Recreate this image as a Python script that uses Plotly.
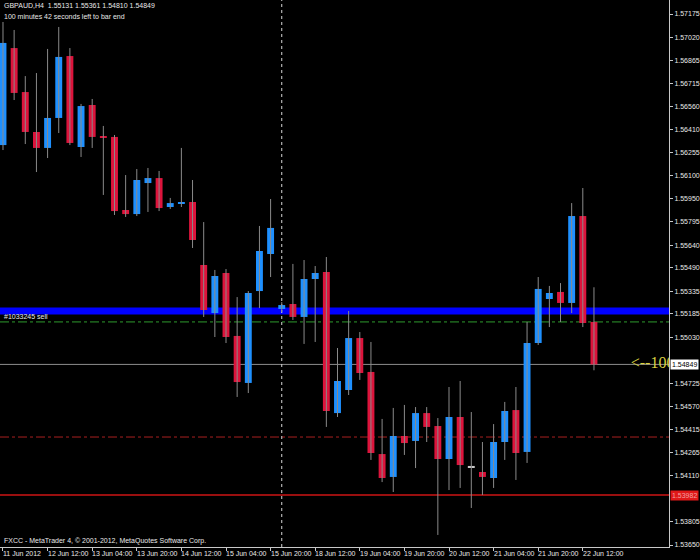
import plotly.graph_objects as go

# ---------------- data (GBPAUD, H4) ----------------
bar_index = list(range(54))
opens = [1.56305, 1.56949, 1.56657, 1.56392, 1.56286, 1.56485, 1.56896, 1.56292, 1.56571, 1.56365,
         1.56359, 1.55874, 1.55847, 1.56053, 1.56086, 1.55894, 1.55914, 1.55927, 1.55509, 1.55190,
         1.55456, 1.55038, 1.54726, 1.55336, 1.55582, 1.55217, 1.55250, 1.55164, 1.55416, 1.55462,
         1.54526, 1.54679, 1.55024, 1.54799, 1.54254, 1.54102, 1.54374, 1.54341, 1.54526, 1.54440,
         1.54221, 1.54500, 1.54168, 1.54135, 1.54095, 1.54334, 1.54546, 1.54268, 1.54991, 1.55283,
         1.55330, 1.55257, 1.55834, 1.55131]
highs = [1.57122, 1.57069, 1.56763, 1.56783, 1.56943, 1.57089, 1.56949, 1.56578, 1.56611, 1.56432,
         1.56372, 1.56106, 1.56146, 1.56153, 1.56133, 1.55954, 1.56286, 1.56073, 1.55794, 1.55476,
         1.55482, 1.55296, 1.55336, 1.55768, 1.55947, 1.55263, 1.55516, 1.55542, 1.55502, 1.55562,
         1.54958, 1.55204, 1.55064, 1.54998, 1.54487, 1.54560, 1.54580, 1.54566, 1.54566, 1.54493,
         1.54699, 1.54739, 1.54533, 1.54334, 1.54453, 1.54600, 1.54699, 1.55131, 1.55429, 1.55370,
         1.55389, 1.55920, 1.56020, 1.55361]
lows = [1.56272, 1.56604, 1.56312, 1.56126, 1.56219, 1.56385, 1.56305, 1.56226, 1.56286, 1.55974,
        1.55841, 1.55828, 1.55834, 1.55861, 1.55867, 1.55881, 1.55894, 1.55622, 1.55164, 1.55031,
        1.54991, 1.54633, 1.54659, 1.55223, 1.55429, 1.55197, 1.55144, 1.54985, 1.54998, 1.54434,
        1.54500, 1.54646, 1.54746, 1.54215, 1.54068, 1.54002, 1.54248, 1.54161, 1.54334, 1.53717,
        1.54015, 1.54029, 1.53896, 1.53982, 1.54029, 1.54215, 1.54082, 1.54195, 1.54978, 1.55097,
        1.55131, 1.55190, 1.55097, 1.54810]
closes = [1.56983, 1.56651, 1.56392, 1.56286, 1.56485, 1.56890, 1.56319, 1.56564, 1.56359, 1.56352,
          1.55867, 1.55847, 1.56073, 1.56086, 1.55887, 1.55920, 1.55927, 1.55675, 1.55210, 1.55436,
          1.55031, 1.54732, 1.55323, 1.55602, 1.55755, 1.55243, 1.55164, 1.55416, 1.55456, 1.54540,
          1.54739, 1.55024, 1.54792, 1.54261, 1.54095, 1.54374, 1.54327, 1.54526, 1.54434, 1.54221,
          1.54500, 1.54181, 1.54168, 1.54102, 1.54334, 1.54540, 1.54261, 1.54991, 1.55350, 1.55323,
          1.55257, 1.55834, 1.55124, 1.54849]

time_tick_index = [0, 4, 8, 12, 16, 20, 24, 28, 32, 36, 40, 44, 48, 52]
time_tick_labels = ["11 Jun 2012", "12 Jun 12:00", "13 Jun 04:00", "13 Jun 20:00", "14 Jun 12:00",
                    "15 Jun 04:00", "15 Jun 20:00", "18 Jun 12:00", "19 Jun 04:00", "19 Jun 20:00",
                    "20 Jun 12:00", "21 Jun 04:00", "21 Jun 20:00", "22 Jun 12:00"]
price_ticks = [1.57175, 1.57020, 1.56865, 1.56715, 1.56560, 1.56410, 1.56255, 1.56100, 1.55950,
               1.55795, 1.55640, 1.55490, 1.55335, 1.55185, 1.55030, 1.54725, 1.54570,
               1.54415, 1.54265, 1.54110, 1.53805, 1.53650]

blue_level = 1.55204
order_level = 1.55131
bid_price = 1.54849
red_dash_level = 1.54367
red_level = 1.53982
week_separator_bar = 25

header_line1 = "GBPAUD,H4  1.55131 1.55361 1.54810 1.54849"
header_line2 = "100 minutes 42 seconds left to bar end"
order_label = "#1033245 sell"
footer = "FXCC - MetaTrader 4, \u00a9 2001-2012, MetaQuotes Software Corp."
arrow_text = "<--100"

# ---------------- styles ----------------
UP = "#1e90ff"
DOWN = "#dc143c"
DOJI = "#c8c8c8"
WICK = "#8a8a8a"
AXIS = "#c8c8c8"
TXT = "#e8e8e8"
FONT = "Liberation Sans"

fig = go.Figure()

wx, wy = [], []
for i, h, l in zip(bar_index, highs, lows):
    wx += [i, i, None]
    wy += [l, h, None]
fig.add_trace(go.Scatter(x=wx, y=wy, mode="lines", line=dict(color=WICK, width=1),
                         hoverinfo="skip", showlegend=False))

bottoms = [min(o, c) for o, c in zip(opens, closes)]
heights = [max(abs(c - o), 0.00007) for o, c in zip(opens, closes)]
colors = [UP if c > o else (DOWN if c < o else DOJI) for o, c in zip(opens, closes)]
fig.add_trace(go.Bar(x=bar_index, y=heights, base=bottoms, width=0.62,
                     marker=dict(color=colors, line=dict(width=0)), showlegend=False))

fig.add_trace(go.Scatter(x=[56.3], y=[bid_price], mode="text", text=[arrow_text],
                         textposition="middle right", cliponaxis=True,
                         textfont=dict(family="Liberation Serif", size=16, color="#d8d040"),
                         showlegend=False, hoverinfo="skip"))

def hline(y, color, width, dash="solid"):
    fig.add_shape(type="line", xref="paper", x0=0, x1=1, yref="y", y0=y, y1=y,
                  line=dict(color=color, width=width, dash=dash), layer="below")

hline(blue_level, "#0000ff", 7)
hline(order_level, "#2e9a2e", 1, "dashdot")
hline(bid_price, "#8c8c8c", 1)
hline(red_dash_level, "#a82020", 1, "dashdot")
hline(red_level, "#9a0f0f", 2)
fig.add_shape(type="line", xref="x", x0=week_separator_bar, x1=week_separator_bar,
              yref="paper", y0=0, y1=1, line=dict(color="#d8d8d8", width=1, dash="dot"),
              layer="below")

ann = []
for xi, lab in zip(time_tick_index, time_tick_labels):
    ann.append(dict(x=xi, xref="x", y=0, yref="paper", text=lab, showarrow=False,
                    xanchor="left", yanchor="top", xshift=-2, yshift=-1,
                    font=dict(family=FONT, size=7, color=TXT)))
ann.append(dict(x=0, xref="paper", y=1, yref="paper", text=header_line1, showarrow=False,
                xanchor="left", yanchor="top", xshift=2, yshift=0,
                font=dict(family=FONT, size=7, color=TXT)))
ann.append(dict(x=0, xref="paper", y=1, yref="paper", text=header_line2, showarrow=False,
                xanchor="left", yanchor="top", xshift=2, yshift=-11,
                font=dict(family=FONT, size=7, color=TXT)))
ann.append(dict(x=0, xref="paper", y=order_level, yref="y", text=order_label, showarrow=False,
                xanchor="left", yanchor="bottom", xshift=2, yshift=0,
                font=dict(family=FONT, size=7, color=TXT)))
ann.append(dict(x=0, xref="paper", y=0, yref="paper", text=footer, showarrow=False,
                xanchor="left", yanchor="bottom", xshift=2, yshift=0,
                font=dict(family=FONT, size=7, color=TXT)))
ann.append(dict(x=1, xref="paper", y=bid_price, yref="y", text=f"{bid_price:.5f}", showarrow=False,
                xanchor="left", yanchor="middle", xshift=1, bgcolor="#ffffff", borderpad=1,
                font=dict(family=FONT, size=7, color="#000000")))
ann.append(dict(x=1, xref="paper", y=red_level, yref="y", text=f"{red_level:.5f}", showarrow=False,
                xanchor="left", yanchor="middle", xshift=1, bgcolor="#e01818", borderpad=1,
                font=dict(family=FONT, size=7, color="#f0a0a0")))

fig.update_layout(
    width=700, height=560,
    margin=dict(l=0, r=28, t=0, b=13),
    paper_bgcolor="#000000", plot_bgcolor="#000000",
    showlegend=False, annotations=ann,
    xaxis=dict(range=[-0.268, 59.73], showgrid=False, zeroline=False,
               showline=True, linecolor=AXIS, linewidth=1,
               tickvals=time_tick_index, showticklabels=False,
               ticks="outside", ticklen=3, tickcolor=AXIS, fixedrange=True),
    yaxis=dict(range=[1.53637, 1.57268], side="right", showgrid=False, zeroline=False,
               showline=True, linecolor=AXIS, linewidth=1,
               tickvals=price_ticks, ticktext=[f"{v:.5f}" for v in price_ticks],
               ticks="outside", ticklen=3, tickcolor=AXIS,
               tickfont=dict(family=FONT, size=7, color=TXT), fixedrange=True),
)

fig.write_html("out.html", config={"displayModeBar": False},
               post_script="document.body.style.margin='0px';document.body.style.padding='0px';"
                           "document.body.style.overflow='hidden';document.body.style.background='#000';")
